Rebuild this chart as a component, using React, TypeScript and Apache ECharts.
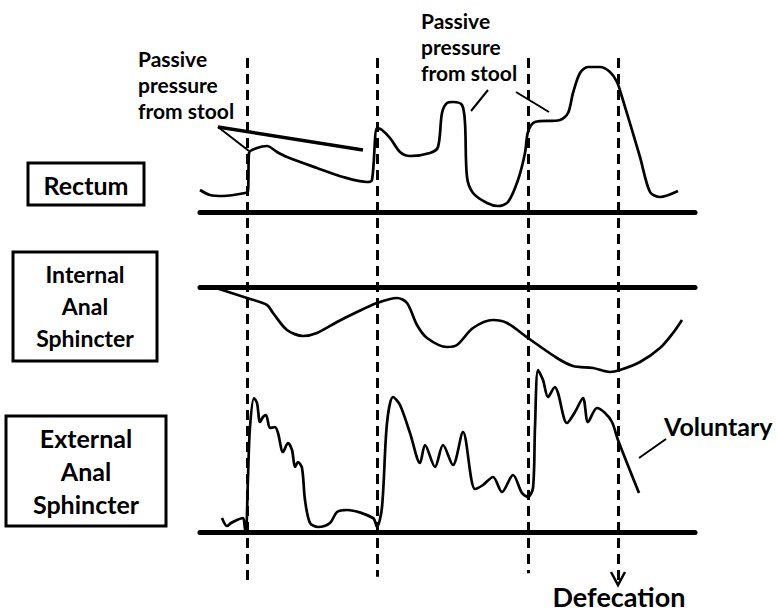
import React, { useEffect, useRef } from "react";
import * as echarts from "echarts";

// time (arbitrary units) vs pressure (arbitrary units above/below resting baseline)
const rectumTrace: [number, number][] = [
  [0, 22], [10, 17], [23, 16], [45, 19], [48, 21], [49, 59], [57, 64], [67, 66], [77, 60], [87, 55],
  [117, 44], [143, 35], [167, 30], [172, 32], [177, 84], [182, 82], [190, 74], [200, 60], [210, 56],
  [230, 59], [238, 65], [242, 99], [247, 109], [253, 110], [262, 107], [265, 89], [267, 35], [273, 19],
  [287, 9], [298, 6], [308, 10], [318, 32], [325, 59], [328, 80], [335, 90], [360, 92], [368, 99],
  [373, 119], [380, 139], [388, 145], [400, 145], [410, 140], [417, 130], [422, 115], [440, 55],
  [450, 20], [460, 15], [478, 21],
];

const internalTrace: [number, number][] = [
  [13, 0], [47, -11], [67, -18], [73, -26], [87, -43], [103, -49], [117, -46], [137, -35], [157, -25],
  [177, -16], [197, -11], [207, -16], [217, -38], [227, -51], [247, -60], [257, -58], [273, -41],
  [293, -33], [307, -36], [328, -51], [357, -71], [373, -79], [393, -81], [410, -85], [420, -83],
  [440, -75], [460, -61], [473, -46], [482, -33],
];

const externalTrace: [number, number][] = [
  [22, 14], [27, 6], [31, 9], [37, 12], [43, 14], [45, 3], [46, 0], [48, 55], [50, 105], [54, 134],
  [57, 129], [60, 110], [63, 115], [66, 117], [70, 104], [75, 105], [78, 99], [83, 80], [88, 89],
  [92, 82], [95, 65], [98, 70], [102, 64], [105, 32], [110, 9], [118, 5], [130, 9], [137, 20],
  [147, 22], [173, 14], [177, 5], [182, 25], [187, 109], [193, 135], [200, 127], [210, 99], [220, 69],
  [225, 87], [235, 65], [243, 87], [253, 67], [263, 100], [275, 43], [283, 47], [293, 55], [302, 40],
  [313, 57], [322, 39], [328, 35], [333, 44], [335, 105], [338, 162], [343, 152], [348, 135],
  [355, 145], [358, 139], [367, 109], [375, 120], [383, 134], [388, 110], [397, 124], [405, 119],
  [412, 110], [418, 92], [439, 39],
];

const eventTimes = [47, 177, 328, 418];
const eventLineEnds = [1.5, 2.1, 2.8, 0.6];

const panelLabels = ["Rectum", "Internal\nAnal\nSphincter", "External\nAnal\nSphincter"];
const annotationText = "Passive\npressure\nfrom stool";
const voluntaryText = "Voluntary";
const defecationText = "Defecation";

const FONT = "Lato, 'Open Sans', sans-serif";

export default function App() {
  const ref = useRef<HTMLDivElement>(null);
  useEffect(() => {
    if (!ref.current) return;
    const chart = echarts.init(ref.current, null, { renderer: "svg" });
    const xCommon = {
      type: "value" as const,
      min: 0,
      max: 495,
      axisTick: { show: false },
      axisLabel: { show: false },
      splitLine: { show: false },
    };
    const yCommon = {
      type: "value" as const,
      axisLine: { show: false },
      axisTick: { show: false },
      axisLabel: { show: false },
      splitLine: { show: false },
    };
    const baseLine = { show: true, onZero: false, lineStyle: { color: "#000", width: 5 } };
    const traceStyle = { color: "#000", width: 2.7 };
    const txt = (
      text: string, x: number, y: number, size: number, align = "center", lh = 0, va = "middle",
    ) => ({
      type: "text",
      style: {
        text,
        x,
        y,
        fill: "#000",
        fontFamily: FONT,
        fontWeight: "bold",
        fontSize: size,
        lineHeight: lh || size * 1.2,
        textAlign: align,
        align,
        textVerticalAlign: va,
        verticalAlign: va,
      },
    });
    const box = (x: number, y: number, w: number, h: number) => ({
      type: "rect",
      shape: { x, y, width: w, height: h },
      style: { fill: "none", stroke: "#000", lineWidth: 3 },
    });
    const seg = (x1: number, y1: number, x2: number, y2: number, w: number) => ({
      type: "line",
      shape: { x1, y1, x2, y2 },
      style: { stroke: "#000", lineWidth: w },
    });
    chart.setOption({
      animation: false,
      backgroundColor: "#fff",
      grid: [
        { left: 200, width: 495, top: 52, height: 160 },
        { left: 200, width: 495, top: 287, height: 100 },
        { left: 200, width: 495, top: 362, height: 170 },
        { left: 200, width: 495, top: 58, height: 530 },
      ],
      xAxis: [
        { ...xCommon, gridIndex: 0, position: "bottom", axisLine: baseLine },
        { ...xCommon, gridIndex: 1, position: "top", axisLine: baseLine },
        { ...xCommon, gridIndex: 2, position: "bottom", axisLine: baseLine },
        { ...xCommon, gridIndex: 3, axisLine: { show: false } },
      ],
      yAxis: [
        { ...yCommon, gridIndex: 0, min: 0, max: 160 },
        { ...yCommon, gridIndex: 1, min: -100, max: 0 },
        { ...yCommon, gridIndex: 2, min: 0, max: 170 },
        { ...yCommon, gridIndex: 3, min: 0, max: 100 },
      ],
      series: [
        {
          type: "line", xAxisIndex: 0, yAxisIndex: 0, data: rectumTrace, showSymbol: false,
          symbol: "none", smooth: 0.3, lineStyle: traceStyle, silent: true,
        },
        {
          type: "line", xAxisIndex: 1, yAxisIndex: 1, data: internalTrace, showSymbol: false,
          symbol: "none", smooth: 0.3, lineStyle: traceStyle, silent: true,
        },
        {
          type: "line", xAxisIndex: 2, yAxisIndex: 2, data: externalTrace, showSymbol: false,
          symbol: "none", smooth: 0.3, lineStyle: traceStyle, silent: true,
        },
        {
          type: "line", xAxisIndex: 3, yAxisIndex: 3, data: [], silent: true,
          markLine: {
            silent: true,
            symbol: ["none", "none"],
            label: { show: false },
            lineStyle: { color: "#000", width: 3, type: [10, 6] },
            data: eventTimes.map((t, i) => [
              { coord: [t, 100] },
              { coord: [t, eventLineEnds[i]] },
            ]),
          },
        },
      ],
      graphic: [
        box(28, 163, 116, 42),
        txt(panelLabels[0], 86, 185, 25),
        box(13, 252, 144, 109),
        txt(panelLabels[1], 85, 306, 23, "center", 32),
        box(6, 416, 160, 110),
        txt(panelLabels[2], 86, 471, 25, "center", 33),
        txt(annotationText, 138, 84, 21, "left", 26),
        txt(annotationText, 421, 46, 21, "left", 26),
        seg(218, 127, 249, 151, 2),
        seg(218, 127, 363, 150, 3.5),
        seg(488, 90, 471, 111, 2),
        seg(516, 92, 549, 112, 2),
        seg(666, 439, 639, 458, 2),
        txt(voluntaryText, 664, 426, 25, "left"),
        txt(defecationText, 619, 611, 27, "center", 29, "bottom"),
        {
          type: "polyline",
          shape: { points: [[611, 572], [618, 585], [625, 572]] },
          style: { fill: "none", stroke: "#000", lineWidth: 2.5 },
        },
      ],
    });
    return () => chart.dispose();
  }, []);
  return (
    <div
      ref={ref}
      style={{ position: "fixed", left: 0, top: 0, width: 777, height: 612, background: "#fff" }}
    />
  );
}
